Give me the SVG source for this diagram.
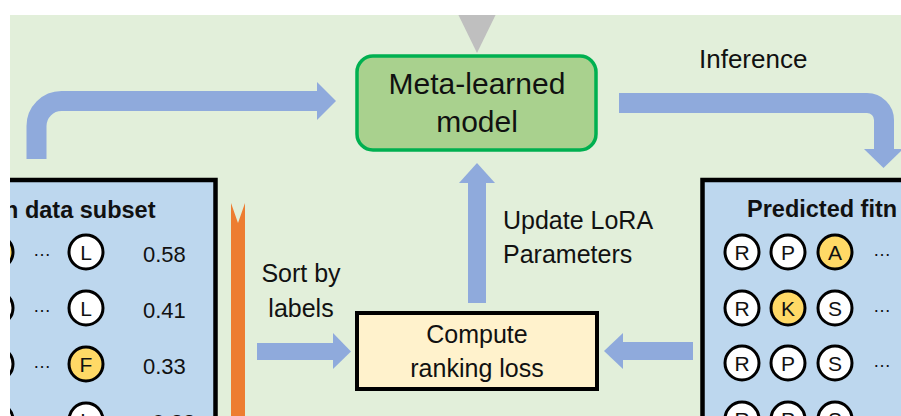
<svg xmlns="http://www.w3.org/2000/svg" width="901" height="416" viewBox="0 0 901 416">
<defs>
<clipPath id="frame"><rect x="10" y="15" width="891" height="401"/></clipPath>
<style>
.t{font-family:"Liberation Sans",Arial,sans-serif;fill:#111}
.lbl{font-size:25px}
.val{font-size:22px}
.ttl{font-size:23.5px;font-weight:bold}
.let{font-size:21px;text-anchor:middle}
.dots{font-size:18px;text-anchor:middle}
.c{stroke:#000;stroke-width:3}
.w{fill:#fff}
.y{fill:#FFD966}
.blue{fill:#8FAADC}
.shaft{fill:none;stroke:#8FAADC;stroke-width:20}
</style>
</defs>
<rect width="901" height="416" fill="#fff"/>
<g clip-path="url(#frame)">
<rect x="10" y="15" width="891" height="401" fill="#E2EFDA"/>

<g id="connectors">
<path class="shaft" d="M36.5 159 V126 A25 25 0 0 1 61.5 101 H318"/>
<polygon class="blue" points="317,82 336,101 317,120"/>
<path class="shaft" d="M619 103 H867 A17 17 0 0 1 884 120 V150"/>
<polygon class="blue" points="864,149 903,149 883.5,168"/>
<rect class="blue" x="468" y="182" width="18" height="121"/>
<polygon class="blue" points="459,183 477,163 495,183"/>
<rect class="blue" x="257" y="343" width="77" height="17"/>
<polygon class="blue" points="333,333 351,351.5 333,369"/>
<rect class="blue" x="622" y="342" width="71" height="18"/>
<polygon class="blue" points="623,333 604,351 623,369"/>
<polygon fill="#ED7D31" points="231,203 238,223 245,203 245,416 231,416"/>
<polygon fill="#BFBFBF" points="456,10 498,10 477,53"/>
</g>

<g id="meta-model">
<rect x="357" y="56" width="239" height="94" rx="16" fill="#A9D18E" stroke="#00B050" stroke-width="3.5"/>
<text class="t" x="477" y="94" font-size="30" text-anchor="middle">Meta-learned</text>
<text class="t" x="477" y="132" font-size="30" text-anchor="middle">model</text>
</g>

<g id="inference-label">
<text class="t" x="699" y="68" font-size="26">Inference</text>
</g>

<g id="update-label">
<text class="t lbl" x="503" y="229">Update LoRA</text>
<text class="t lbl" x="503" y="263">Parameters</text>
</g>

<g id="sort-label">
<text class="t lbl" x="301" y="282" text-anchor="middle">Sort by</text>
<text class="t lbl" x="301" y="317" text-anchor="middle">labels</text>
</g>

<g id="ranking-loss">
<rect x="357" y="313" width="240" height="76" fill="#FFF2CC" stroke="#000" stroke-width="4"/>
<text class="t lbl" x="477" y="343" text-anchor="middle">Compute</text>
<text class="t lbl" x="477" y="377" text-anchor="middle">ranking loss</text>
</g>

<g id="train-subset">
<rect x="-20" y="180" width="235.5" height="260" fill="#BDD7EE" stroke="#000" stroke-width="4.5"/>
<text class="t ttl" x="4" y="218">n data subset</text>
<circle class="c y" cx="-4" cy="252" r="17"/>
<text class="t dots" x="42" y="256">…</text>
<circle class="c w" cx="86" cy="252" r="17"/>
<text class="t let" x="86" y="260">L</text>
<text class="t val" x="143" y="262">0.58</text>
<circle class="c w" cx="-4" cy="308" r="17"/>
<text class="t dots" x="42" y="312">…</text>
<circle class="c w" cx="86" cy="308" r="17"/>
<text class="t let" x="86" y="316">L</text>
<text class="t val" x="143" y="318">0.41</text>
<circle class="c w" cx="-4" cy="364" r="17"/>
<text class="t dots" x="42" y="368">…</text>
<circle class="c y" cx="86" cy="364" r="17"/>
<text class="t let" x="86" y="372">F</text>
<text class="t val" x="143" y="374">0.33</text>
<circle class="c w" cx="-4" cy="420" r="17"/>
<circle class="c w" cx="86" cy="420" r="17"/>
<text class="t let" x="86" y="428">L</text>
<text class="t val" x="145" y="430">-0.22</text>
</g>

<g id="predicted-fitness">
<rect x="702.5" y="180" width="240" height="260" fill="#BDD7EE" stroke="#000" stroke-width="4.5"/>
<text class="t ttl" x="747" y="217">Predicted fitn</text>
<circle class="c w" cx="742" cy="252" r="17"/><text class="t let" x="742" y="260">R</text>
<circle class="c w" cx="788" cy="252" r="17"/><text class="t let" x="788" y="260">P</text>
<circle class="c y" cx="835" cy="252" r="17"/><text class="t let" x="835" y="260">A</text>
<text class="t dots" x="882" y="256">…</text>
<circle class="c w" cx="742" cy="308" r="17"/><text class="t let" x="742" y="316">R</text>
<circle class="c y" cx="788" cy="308" r="17"/><text class="t let" x="788" y="316">K</text>
<circle class="c w" cx="835" cy="308" r="17"/><text class="t let" x="835" y="316">S</text>
<text class="t dots" x="882" y="312">…</text>
<circle class="c w" cx="742" cy="363" r="17"/><text class="t let" x="742" y="371">R</text>
<circle class="c w" cx="788" cy="363" r="17"/><text class="t let" x="788" y="371">P</text>
<circle class="c w" cx="835" cy="363" r="17"/><text class="t let" x="835" y="371">S</text>
<text class="t dots" x="882" y="367">…</text>
<circle class="c w" cx="742" cy="419" r="17"/><text class="t let" x="742" y="427">R</text>
<circle class="c w" cx="788" cy="419" r="17"/><text class="t let" x="788" y="427">P</text>
<circle class="c w" cx="835" cy="419" r="17"/><text class="t let" x="835" y="427">S</text>
</g>
</g>
</svg>
